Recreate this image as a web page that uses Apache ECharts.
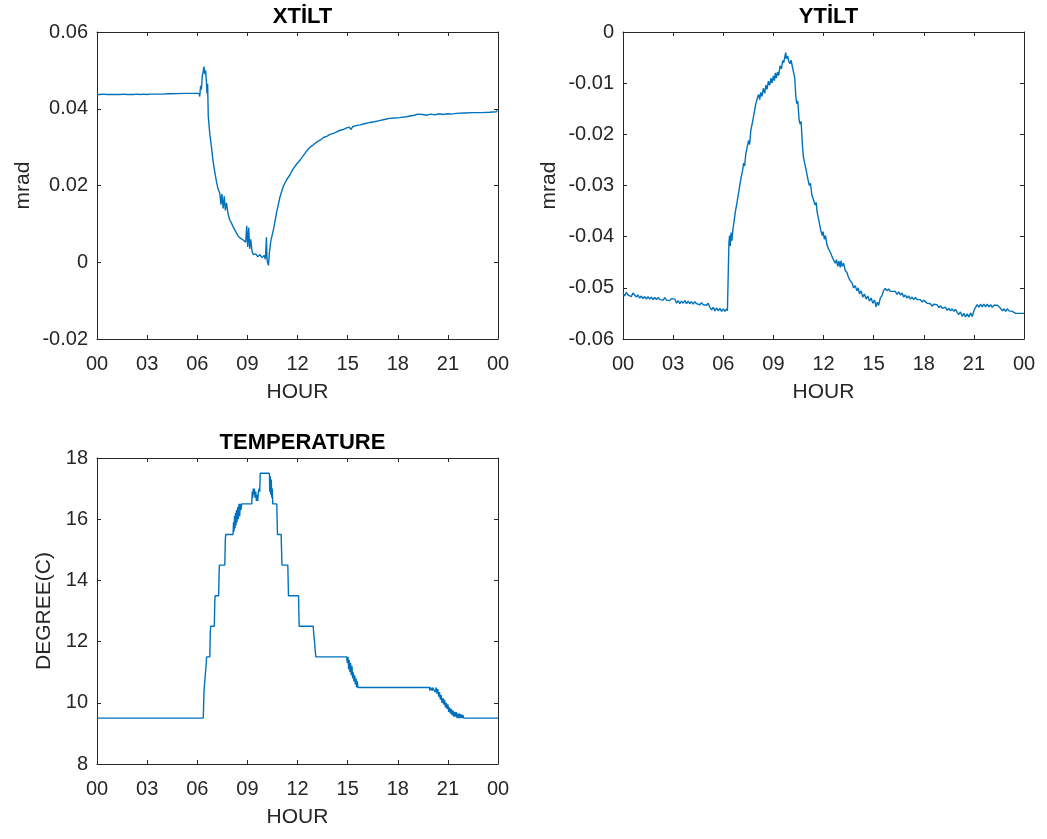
<!DOCTYPE html>
<html>
<head>
<meta charset="utf-8">
<title>Tilt and temperature</title>
<script src="https://cdn.jsdelivr.net/npm/echarts@6/dist/echarts.min.js"></script>
<style>
  html, body { margin: 0; padding: 0; background: #ffffff; }
  #chart { width: 1047px; height: 839px; }
</style>
</head>
<body>
<div id="chart"></div>
<script>
// Hour-of-day tick labels shared by all three panels
const hourTicks = ['00', '03', '06', '09', '12', '15', '18', '21', '00'];
const xtiltTicks = ['-0.02', '0', '0.02', '0.04', '0.06'];
const ytiltTicks = ['-0.06', '-0.05', '-0.04', '-0.03', '-0.02', '-0.01', '0'];
const tempTicks = ['8', '10', '12', '14', '16', '18'];

// X tilt [hour, mrad]
const xtiltData = [
  [0.00,0.0437],[0.10,0.0433],[0.20,0.0437],[0.30,0.0434],[0.40,0.0438],[0.50,0.0433],[0.60,0.0437],[0.70,0.0434],
  [0.80,0.0437],[0.90,0.0433],[1.00,0.0437],[1.10,0.0434],[1.20,0.0437],[1.30,0.0433],[1.40,0.0437],[1.50,0.0434],
  [1.60,0.0438],[1.70,0.0434],[1.80,0.0437],[1.90,0.0433],[2.00,0.0437],[2.10,0.0434],[2.20,0.0437],[2.30,0.0434],
  [2.40,0.0438],[2.50,0.0434],[2.60,0.0437],[2.70,0.0434],[2.80,0.0438],[2.90,0.0434],[3.00,0.0437],[3.10,0.0435],
  [3.20,0.0438],[3.30,0.0434],[3.40,0.0438],[3.50,0.0435],[3.60,0.0438],[3.70,0.0434],[3.80,0.0438],[3.90,0.0436],
  [4.00,0.0438],[4.10,0.0434],[4.20,0.0439],[4.30,0.0435],[4.40,0.0439],[4.50,0.0440],[5.30,0.0440],[5.35,0.0444],
  [5.40,0.0440],[6.10,0.0440],[6.15,0.0432],[6.20,0.0460],[6.25,0.0450],[6.30,0.0485],[6.35,0.0495],[6.40,0.0510],
  [6.45,0.0490],[6.50,0.0500],[6.55,0.0470],[6.58,0.0440],[6.62,0.0465],[6.66,0.0380],[6.75,0.0335],[6.85,0.0300],
  [6.95,0.0262],[7.05,0.0235],[7.15,0.0210],[7.25,0.0190],[7.35,0.0180],[7.42,0.0150],[7.48,0.0178],[7.55,0.0140],
  [7.62,0.0172],[7.68,0.0135],[7.75,0.0155],[7.85,0.0125],[7.95,0.0110],[8.05,0.0102],[8.15,0.0092],[8.30,0.0080],
  [8.45,0.0068],[8.60,0.0062],[8.75,0.0058],[8.90,0.0052],[8.96,0.0095],[9.02,0.0040],[9.08,0.0090],[9.14,0.0035],
  [9.20,0.0060],[9.28,0.0028],[9.36,0.0020],[9.50,0.0022],[9.62,0.0014],[9.75,0.0020],[9.88,0.0012],[10.00,0.0018],
  [10.08,0.0008],[10.14,0.0065],[10.18,0.0005],[10.26,-0.0008],[10.32,0.0025],[10.40,0.0055],[10.56,0.0085],
  [10.75,0.0130],[10.95,0.0170],[11.15,0.0198],[11.35,0.0215],[11.55,0.0228],[11.75,0.0244],[11.95,0.0256],
  [12.15,0.0266],[12.35,0.0278],[12.55,0.0290],[12.75,0.0300],[12.95,0.0306],[13.15,0.0313],[13.35,0.0318],
  [13.55,0.0325],[13.75,0.0328],[13.95,0.0333],[14.15,0.0336],[14.35,0.0340],[14.55,0.0344],[14.75,0.0346],
  [14.95,0.0350],[15.10,0.0352],[15.20,0.0346],[15.30,0.0353],[15.50,0.0356],[15.75,0.0358],[16.00,0.0361],
  [16.30,0.0364],[16.60,0.0366],[16.90,0.0369],[17.20,0.0372],[17.50,0.0375],[17.80,0.0376],[18.10,0.0377],
  [18.50,0.0379],[19.00,0.0383],[19.20,0.0386],[19.30,0.0382],[19.50,0.0385],[19.70,0.0383],[20.00,0.0386],
  [20.20,0.0384],[20.50,0.0387],[20.70,0.0385],[21.00,0.0387],[21.20,0.0386],[21.50,0.0388],[22.00,0.0389],
  [22.50,0.0390],[23.00,0.0390],[23.50,0.0391],[23.90,0.0392],[23.95,0.0396],[24.00,0.0392]
];

// Y tilt [hour, mrad]
const ytiltData = [
  [0.00,-0.0510],[0.10,-0.0516],[0.20,-0.0509],[0.30,-0.0514],[0.40,-0.0511],[0.50,-0.0517],[0.60,-0.0510],
  [0.70,-0.0513],[0.80,-0.0518],[0.90,-0.0514],[1.00,-0.0520],[1.10,-0.0516],[1.20,-0.0521],[1.30,-0.0517],
  [1.40,-0.0522],[1.50,-0.0517],[1.60,-0.0522],[1.70,-0.0518],[1.80,-0.0523],[1.90,-0.0519],[2.00,-0.0523],
  [2.10,-0.0519],[2.20,-0.0523],[2.30,-0.0520],[2.40,-0.0524],[2.50,-0.0519],[2.60,-0.0524],[2.70,-0.0521],
  [2.80,-0.0525],[2.90,-0.0521],[3.00,-0.0524],[3.10,-0.0522],[3.20,-0.0530],[3.30,-0.0525],[3.40,-0.0531],
  [3.50,-0.0526],[3.60,-0.0530],[3.70,-0.0525],[3.80,-0.0531],[3.90,-0.0526],[4.00,-0.0531],[4.10,-0.0527],
  [4.20,-0.0532],[4.30,-0.0527],[4.40,-0.0531],[4.50,-0.0528],[4.60,-0.0533],[4.70,-0.0529],[4.80,-0.0533],
  [4.90,-0.0530],[5.00,-0.0534],[5.10,-0.0530],[5.20,-0.0538],[5.30,-0.0543],[5.40,-0.0538],[5.50,-0.0545],
  [5.60,-0.0539],[5.70,-0.0545],[5.80,-0.0540],[5.90,-0.0546],[6.00,-0.0541],[6.10,-0.0546],[6.20,-0.0541],
  [6.25,-0.0545],[6.30,-0.0470],[6.34,-0.0412],[6.38,-0.0398],[6.42,-0.0418],[6.47,-0.0392],[6.52,-0.0408],
  [6.58,-0.0385],[6.65,-0.0370],[6.72,-0.0352],[6.80,-0.0338],[6.90,-0.0318],[7.00,-0.0298],[7.08,-0.0282],
  [7.15,-0.0272],[7.22,-0.0256],[7.28,-0.0262],[7.35,-0.0238],[7.45,-0.0222],[7.52,-0.0212],[7.58,-0.0220],
  [7.65,-0.0192],[7.75,-0.0176],[7.85,-0.0158],[7.95,-0.0140],[8.05,-0.0128],[8.12,-0.0122],[8.18,-0.0132],
  [8.25,-0.0118],[8.32,-0.0126],[8.40,-0.0110],[8.48,-0.0120],[8.55,-0.0104],[8.62,-0.0112],[8.70,-0.0096],
  [8.78,-0.0104],[8.86,-0.0090],[8.92,-0.0100],[9.00,-0.0086],[9.06,-0.0095],[9.12,-0.0080],[9.18,-0.0090],
  [9.25,-0.0078],[9.32,-0.0085],[9.40,-0.0066],[9.48,-0.0072],[9.56,-0.0056],[9.62,-0.0060],[9.70,-0.0046],
  [9.74,-0.0040],[9.78,-0.0052],[9.86,-0.0047],[9.92,-0.0058],[10.00,-0.0062],[10.06,-0.0055],[10.12,-0.0065],
  [10.20,-0.0066],[10.28,-0.0090],[10.34,-0.0125],[10.40,-0.0140],[10.46,-0.0135],[10.54,-0.0172],[10.60,-0.0180],
  [10.66,-0.0175],[10.74,-0.0222],[10.80,-0.0245],[10.86,-0.0242],[10.95,-0.0268],[11.05,-0.0285],[11.15,-0.0300],
  [11.22,-0.0296],[11.30,-0.0318],[11.40,-0.0328],[11.50,-0.0338],[11.56,-0.0333],[11.62,-0.0352],[11.72,-0.0368],
  [11.82,-0.0385],[11.92,-0.0398],[11.98,-0.0390],[12.05,-0.0405],[12.12,-0.0398],[12.20,-0.0415],[12.30,-0.0424],
  [12.40,-0.0430],[12.50,-0.0438],[12.60,-0.0445],[12.70,-0.0452],[12.78,-0.0445],[12.85,-0.0458],[12.92,-0.0448],
  [13.00,-0.0460],[13.05,-0.0447],[13.12,-0.0458],[13.20,-0.0452],[13.30,-0.0466],[13.40,-0.0470],[13.50,-0.0480],
  [13.60,-0.0486],[13.70,-0.0490],[13.80,-0.0500],[13.90,-0.0496],[14.00,-0.0506],[14.08,-0.0500],[14.15,-0.0512],
  [14.25,-0.0506],[14.35,-0.0518],[14.45,-0.0512],[14.55,-0.0522],[14.65,-0.0516],[14.75,-0.0526],[14.85,-0.0520],
  [14.95,-0.0530],[15.05,-0.0524],[15.15,-0.0537],[15.22,-0.0528],[15.30,-0.0534],[15.40,-0.0520],[15.50,-0.0515],
  [15.60,-0.0505],[15.70,-0.0501],[15.80,-0.0506],[15.90,-0.0502],[16.00,-0.0507],[16.30,-0.0507],[16.40,-0.0513],
  [16.50,-0.0508],[16.60,-0.0514],[16.70,-0.0510],[16.80,-0.0518],[16.90,-0.0514],[17.00,-0.0520],[17.10,-0.0516],
  [17.20,-0.0522],[17.30,-0.0518],[17.40,-0.0523],[17.50,-0.0519],[17.60,-0.0523],[17.80,-0.0523],[17.90,-0.0528],
  [18.00,-0.0524],[18.20,-0.0530],[18.40,-0.0531],[18.50,-0.0536],[18.60,-0.0532],[18.80,-0.0533],[18.90,-0.0539],
  [19.00,-0.0535],[19.10,-0.0540],[19.20,-0.0543],[19.30,-0.0538],[19.40,-0.0544],[19.50,-0.0540],[19.60,-0.0545],
  [19.70,-0.0541],[19.80,-0.0546],[19.90,-0.0542],[20.00,-0.0548],[20.10,-0.0552],[20.20,-0.0547],[20.30,-0.0556],
  [20.40,-0.0550],[20.50,-0.0557],[20.60,-0.0551],[20.70,-0.0557],[20.80,-0.0549],[20.90,-0.0556],[21.00,-0.0545],
  [21.10,-0.0538],[21.20,-0.0533],[21.30,-0.0538],[21.40,-0.0532],[21.50,-0.0537],[21.60,-0.0532],[21.70,-0.0537],
  [21.80,-0.0532],[21.90,-0.0537],[22.00,-0.0533],[22.10,-0.0538],[22.20,-0.0534],[22.30,-0.0537],[22.40,-0.0534],
  [22.60,-0.0540],[22.70,-0.0545],[22.80,-0.0541],[22.90,-0.0546],[23.00,-0.0541],[23.10,-0.0545],[23.20,-0.0542],
  [23.30,-0.0546],[23.40,-0.0545],[23.50,-0.0550],[24.00,-0.0550]
];

// Temperature [hour, degree C]
const tempData = [
  [0.00,9.5],[6.36,9.5],[6.40,10.3],[6.42,10.5],[6.50,10.5],[6.54,11.3],[6.56,11.5],[6.75,11.5],[6.78,12.3],
  [6.80,12.5],[7.02,12.5],[7.05,13.3],[7.07,13.5],[7.28,13.5],[7.31,14.3],[7.33,14.5],[7.65,14.5],[7.68,15.3],
  [7.70,15.5],[8.14,15.5],[8.17,15.9],[8.20,15.6],[8.23,16.1],[8.26,15.7],[8.29,16.2],[8.32,15.8],[8.35,16.3],
  [8.38,15.9],[8.42,16.4],[8.46,16.0],[8.50,16.5],[8.54,16.1],[8.58,16.5],[8.62,16.3],[8.66,16.5],[9.26,16.5],
  [9.29,16.9],[9.32,16.7],[9.35,17.0],[9.38,16.8],[9.42,17.0],[9.46,16.7],[9.50,16.9],[9.54,16.6],[9.58,16.8],
  [9.62,16.6],[9.66,16.9],[9.70,17.0],[9.74,16.9],[9.77,17.5],[10.32,17.5],[10.34,16.9],[10.37,17.4],[10.40,16.8],
  [10.43,17.3],[10.46,16.7],[10.49,17.0],[10.52,16.5],[10.76,16.5],[10.80,15.5],[11.02,15.5],[11.07,14.5],
  [11.42,14.5],[11.46,13.5],[12.06,13.5],[12.10,12.5],[12.94,12.5],[12.98,12.2],[13.02,12.0],[13.06,11.7],
  [13.10,11.5],[14.94,11.5],[14.98,11.3],[15.02,11.5],[15.06,11.1],[15.10,11.4],[15.14,11.0],[15.18,11.3],
  [15.22,10.9],[15.26,11.2],[15.30,10.8],[15.34,11.0],[15.38,10.7],[15.42,10.9],[15.46,10.6],[15.50,10.8],
  [15.54,10.5],[15.58,10.7],[15.62,10.5],[19.90,10.5],[19.92,10.4],[19.94,10.5],[20.05,10.5],[20.07,10.4],
  [20.09,10.5],[20.20,10.5],[20.25,10.35],[20.30,10.5],[20.35,10.3],[20.40,10.45],[20.45,10.2],[20.50,10.35],
  [20.55,10.1],[20.60,10.25],[20.65,10.0],[20.70,10.15],[20.75,9.95],[20.80,10.1],[20.85,9.85],[20.90,10.0],
  [20.95,9.8],[21.00,9.95],[21.05,9.7],[21.10,9.85],[21.15,9.65],[21.20,9.8],[21.25,9.6],[21.30,9.75],
  [21.35,9.55],[21.40,9.7],[21.45,9.55],[21.50,9.7],[21.55,9.5],[21.60,9.65],[21.65,9.5],[21.70,9.65],
  [21.75,9.5],[21.80,9.62],[21.85,9.5],[21.90,9.6],[21.95,9.5],[22.00,9.5],[24.00,9.5]
];

const FONT = 'Liberation Sans, Arial, Helvetica, sans-serif';
const AXIS_COLOR = '#262626';
const LINE_COLOR = '#0072BD';

function labelFrom(labels, min, step) {
  return function (v) {
    const i = Math.round((v - min) / step);
    return labels[i] !== undefined ? labels[i] : '';
  };
}

const panels = [
  { title: 'XTİLT', grid: { left: 97, top: 32, width: 401, height: 307 },
    yMin: -0.02, yMax: 0.06, yStep: 0.02, yTicks: xtiltTicks, yName: 'mrad', yGap: 63, data: xtiltData },
  { title: 'YTİLT', grid: { left: 623, top: 32, width: 401, height: 307 },
    yMin: -0.06, yMax: 0, yStep: 0.01, yTicks: ytiltTicks, yName: 'mrad', yGap: 63, data: ytiltData },
  { title: 'TEMPERATURE', grid: { left: 97, top: 458, width: 401, height: 306 },
    yMin: 8, yMax: 18, yStep: 2, yTicks: tempTicks, yName: 'DEGREE(C)', yGap: 42, data: tempData }
];

const grids = [], xAxes = [], yAxes = [], series = [], titles = [];
const lineStyle = { color: AXIS_COLOR, width: 1 };
const tickStyle = { show: true, inside: true, length: 4, lineStyle: { color: AXIS_COLOR, width: 1 } };

panels.forEach(function (p, g) {
  grids.push(Object.assign({ containLabel: false }, p.grid));
  titles.push({
    text: p.title,
    left: p.grid.left + p.grid.width / 2,
    top: p.grid.top - 31,
    textAlign: 'center',
    textStyle: { fontFamily: FONT, fontSize: 22, fontWeight: 'bold', color: '#000000' }
  });
  // bottom hour axis with labels
  xAxes.push({
    type: 'value', gridIndex: g, position: 'bottom', min: 0, max: 24, interval: 3,
    name: 'HOUR', nameLocation: 'middle', nameGap: 43,
    nameTextStyle: { fontFamily: FONT, fontSize: 21, color: AXIS_COLOR },
    axisLine: { show: true, onZero: false, lineStyle: lineStyle },
    axisTick: tickStyle,
    axisLabel: { show: true, margin: 15, fontFamily: FONT, fontSize: 20, color: AXIS_COLOR,
                 formatter: labelFrom(hourTicks, 0, 3) },
    splitLine: { show: false }
  });
  // top edge of the box, ticks only
  xAxes.push({
    type: 'value', gridIndex: g, position: 'top', min: 0, max: 24, interval: 3,
    axisLine: { show: true, onZero: false, lineStyle: lineStyle },
    axisTick: tickStyle, axisLabel: { show: false }, splitLine: { show: false }
  });
  yAxes.push({
    type: 'value', gridIndex: g, position: 'left', min: p.yMin, max: p.yMax, interval: p.yStep,
    name: p.yName, nameLocation: 'middle', nameGap: p.yGap,
    nameTextStyle: { fontFamily: FONT, fontSize: 21, color: AXIS_COLOR },
    axisLine: { show: true, onZero: false, lineStyle: lineStyle },
    axisTick: tickStyle,
    axisLabel: { show: true, margin: 9, fontFamily: FONT, fontSize: 20, color: AXIS_COLOR,
                 formatter: labelFrom(p.yTicks, p.yMin, p.yStep) },
    splitLine: { show: false }
  });
  // right edge of the box, ticks only
  yAxes.push({
    type: 'value', gridIndex: g, position: 'right', min: p.yMin, max: p.yMax, interval: p.yStep,
    axisLine: { show: true, onZero: false, lineStyle: lineStyle },
    axisTick: tickStyle, axisLabel: { show: false }, splitLine: { show: false }
  });
  series.push({
    type: 'line', xAxisIndex: g * 2, yAxisIndex: g * 2, data: p.data,
    showSymbol: false, symbol: 'none', clip: true,
    lineStyle: { color: LINE_COLOR, width: 1.4 }
  });
});

const chart = echarts.init(document.getElementById('chart'), null, { renderer: 'canvas' });
chart.setOption({
  backgroundColor: '#ffffff',
  animation: false,
  title: titles,
  grid: grids,
  xAxis: xAxes,
  yAxis: yAxes,
  series: series
});
</script>
</body>
</html>
